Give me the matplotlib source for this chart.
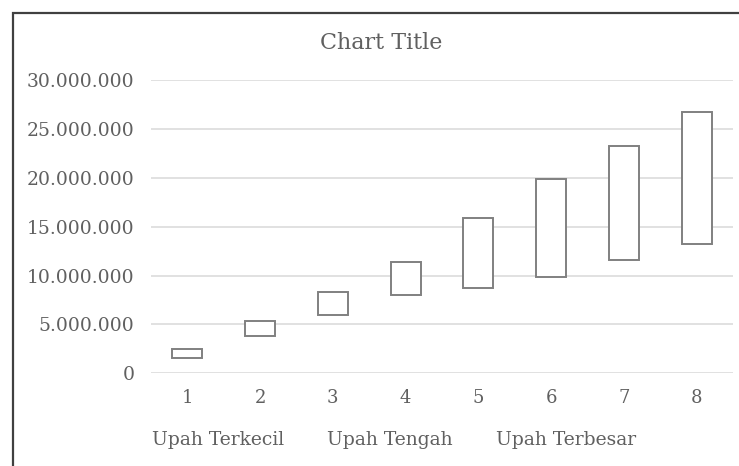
import matplotlib; matplotlib.use("Agg")
import matplotlib.pyplot as plt
from matplotlib.lines import Line2D
from matplotlib.patches import Rectangle
from matplotlib.ticker import FuncFormatter, MultipleLocator
import numpy as np

TEXT = "#606060"; GRID = "#d9d9d9"; EDGE = "#808080"; FRAME = "#404040"
plt.rcParams.update({"font.family": ["DejaVu Serif"], "font.size": 13.5})

# wage range per group (rupiah)
groups = [1, 2, 3, 4, 5, 6, 7, 8]
upah_terkecil = [1600000, 3850000, 5950000, 8000000, 8750000, 9820000, 11590000, 13220000]
upah_terbesar = [2490000, 5380000, 8350000, 11350000, 15850000, 19870000, 23280000, 26730000]
series_names = ["Upah Terkecil", "Upah Tengah", "Upah Terbesar"]

fig = plt.figure(figsize=(7.39, 4.66), dpi=100)
ax = fig.add_axes([0.2043, 0.1989, 0.7876, 0.6294])

lo = np.array(upah_terkecil); hi = np.array(upah_terbesar)
ax.bar(groups, hi - lo, bottom=lo, width=0.41, facecolor="white", edgecolor=EDGE, lw=1.4, zorder=3)

ax.set_xlim(0.5, 8.5); ax.set_ylim(0, 30000000)
ax.yaxis.set_major_locator(MultipleLocator(5000000))
ax.yaxis.set_major_formatter(FuncFormatter(lambda v, p: f"{v:,.0f}".replace(",", ".")))
ax.set_xticks(groups)
ax.grid(axis="y", color=GRID, lw=1.1, zorder=0)
ax.set_axisbelow(True)
for s in ax.spines.values(): s.set_visible(False)
ax.tick_params(length=0, colors=TEXT)
ax.tick_params(axis="y", pad=12, labelsize=13.5)
ax.tick_params(axis="x", pad=11, labelsize=13)

fig.text(381/739, 1 - 43/466, "Chart Title", ha="center", va="center", fontsize=16, color=TEXT)

# legend entries carry no visible marker
handles = [Line2D([], [], linestyle="none") for _ in series_names]
fig.legend(handles, series_names, ncol=3, loc="center", bbox_to_anchor=(394/739, 1 - 440/466),
           frameon=False, handlelength=0, handletextpad=0, columnspacing=2.3,
           labelcolor=TEXT, fontsize=13.5)

# chart frame (only left and top edges fall inside the canvas)
fig.patches.append(Rectangle((13/739, -0.1), 1.2, 1 - 13/466 + 0.1, transform=fig.transFigure,
                             fill=False, edgecolor=FRAME, lw=1.6, clip_on=False))

fig.savefig("out.png", dpi=100)
